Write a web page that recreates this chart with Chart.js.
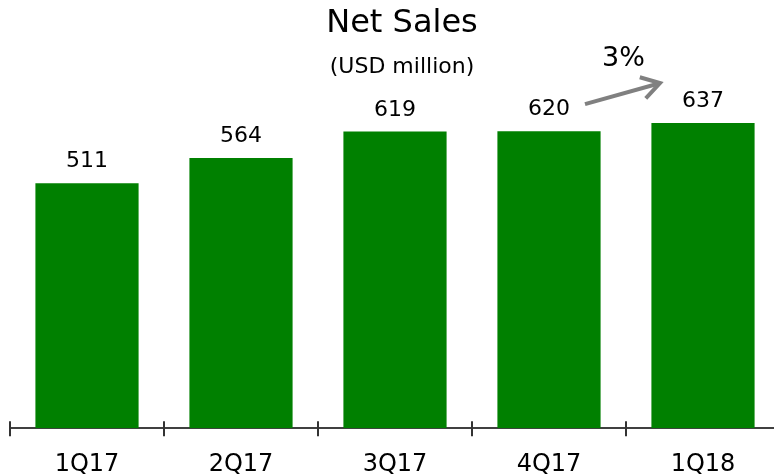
<!DOCTYPE html>
<html>
<head>
<meta charset="utf-8">
<script src="https://cdn.jsdelivr.net/npm/chart.js@4"></script>
<style>
html,body{margin:0;padding:0;background:#fff;overflow:hidden;}
#wrap{width:790px;height:501px;position:relative;}
</style>
</head>
<body>
<div id="wrap"><canvas id="c"></canvas></div>
<script>
const categories = ["1Q17", "2Q17", "3Q17", "4Q17", "1Q18"];
const netSales = [511, 564, 619, 620, 637];
const growthLabel = "3%";
const titleText = "Net Sales";
const subtitleText = "(USD million)";

const FONT = "'DejaVu Sans', Verdana, sans-serif";

const shiftTitles = {
  id: 'shiftTitles',
  afterLayout(chart) {
    chart.boxes.forEach(b => {
      if (b.options && (b.options.text === titleText || b.options.text === subtitleText)) {
        b.left += 7; b.right += 7;
      }
    });
  }
};

const labelPlugin = {
  id: 'valueLabels',
  afterDatasetsDraw(chart) {
    const ctx = chart.ctx;
    const meta = chart.getDatasetMeta(0);
    ctx.save();
    ctx.fillStyle = '#000';
    ctx.font = '22px ' + FONT;
    ctx.textAlign = 'center';
    ctx.textBaseline = 'alphabetic';
    meta.data.forEach((bar, i) => {
      ctx.fillText(String(netSales[i]), bar.x, bar.y - 16);
    });
    // growth arrow between last two bars
    const n = meta.data.length;
    const a = meta.data[n - 2], b = meta.data[n - 1];
    const x0 = a.x + 36, y0 = a.y - 27;
    const x1 = b.x - 43, y1 = b.y - 40;
    ctx.strokeStyle = '#808080';
    ctx.lineWidth = 4;
    ctx.lineCap = 'butt';
    ctx.beginPath();
    ctx.moveTo(x0, y0);
    ctx.lineTo(x1 - 3, y1 + 1);
    ctx.stroke();
    const ang = Math.atan2(y1 - y0, x1 - x0);
    const L = 21, spread = 0.55;
    ctx.beginPath();
    ctx.moveTo(x1 - L * Math.cos(ang - spread), y1 - L * Math.sin(ang - spread));
    ctx.lineTo(x1, y1);
    ctx.lineTo(x1 - L * Math.cos(ang + spread), y1 - L * Math.sin(ang + spread));
    ctx.lineJoin = 'miter';
    ctx.stroke();
    ctx.fillStyle = '#000';
    ctx.font = '27px ' + FONT;
    ctx.textAlign = 'center';
    ctx.fillText(growthLabel, (x0 + x1) / 2 + 1, y1 - 17);
    ctx.restore();
  }
};

const tickPlugin = {
  id: 'axisTicks',
  afterDraw(chart) {
    const xs = chart.scales.x;
    const ctx = chart.ctx;
    const n = categories.length;
    const pos = [];
    for (let i = 0; i <= n; i++) {
      if (i === 0) pos.push(xs.left);
      else if (i === n) pos.push(xs.right);
      else pos.push((xs.getPixelForValue(i - 1) + xs.getPixelForValue(i)) / 2);
    }
    ctx.save();
    ctx.strokeStyle = '#333333';
    ctx.lineWidth = 2;
    pos.forEach(x => {
      ctx.beginPath();
      ctx.moveTo(Math.round(x), xs.top - 7);
      ctx.lineTo(Math.round(x), xs.top + 8);
      ctx.stroke();
    });
    ctx.restore();
  }
};

new Chart(document.getElementById('c'), {
  type: 'bar',
  data: {
    labels: categories,
    datasets: [{
      data: netSales,
      backgroundColor: '#008000',
      borderWidth: 0,
      barPercentage: 0.67,
      categoryPercentage: 1.0
    }]
  },
  options: {
    responsive: true,
    maintainAspectRatio: false,
    animation: false,
    layout: { padding: { left: 10, right: 10, top: 0, bottom: 0 } },
    plugins: {
      legend: { display: false },
      tooltip: { enabled: false },
      title: {
        display: true,
        text: titleText,
        color: '#000',
        font: { family: FONT, size: 32, weight: 'normal' },
        padding: { top: 4, bottom: 7 }
      },
      subtitle: {
        display: true,
        text: subtitleText,
        color: '#000',
        font: { family: FONT, size: 22, weight: 'normal' },
        padding: { top: 5, bottom: 12 }
      }
    },
    scales: {
      x: {
        offset: true,
        grid: { display: false, drawTicks: false },
        border: { display: true, color: '#404040', width: 2 },
        ticks: {
          color: '#000',
          padding: 22,
          font: { family: FONT, size: 24 }
        }
      },
      y: {
        display: false,
        min: 0,
        max: 700,
        beginAtZero: true
      }
    }
  },
  plugins: [shiftTitles, labelPlugin, tickPlugin]
});
</script>
</body>
</html>
